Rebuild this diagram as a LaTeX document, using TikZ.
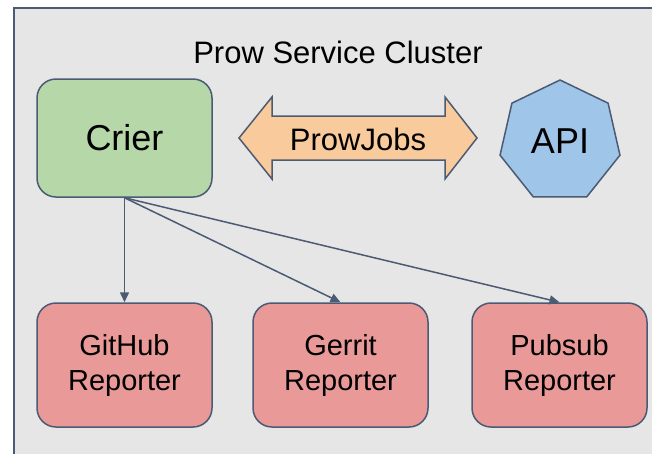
\documentclass[tikz,border=0pt]{standalone}
\usepackage{fontspec}
\setmainfont{Liberation Sans}
\usetikzlibrary{shapes.geometric,arrows.meta}
\definecolor{edgec}{HTML}{4B5B73}
\definecolor{framefill}{HTML}{E6E6E6}
\definecolor{crierfill}{HTML}{B6D7A8}
\definecolor{arrowfill}{HTML}{F9CB9C}
\definecolor{apifill}{HTML}{9FC5E8}
\definecolor{repfill}{HTML}{EA9999}
\tikzset{
  boxbase/.style={draw=edgec, line width=1.5pt, rounded corners=19pt, minimum width=175pt, inner sep=0pt, align=center, text=black},
  crierbox/.style={boxbase, fill=crierfill, minimum height=118pt, font=\fontsize{36}{40}\selectfont},
  repbox/.style={boxbase, fill=repfill, minimum height=124pt, font=\fontsize{29}{35}\selectfont},
  apibox/.style={draw=edgec, line width=1.5pt, fill=apifill, regular polygon, regular polygon sides=7, minimum size=123pt, inner sep=0pt, font=\fontsize{36}{40}\selectfont},
  conn/.style={draw=edgec, line width=1.5pt, -{Triangle[length=10pt,width=9pt]}},
  bigarrow/.style={draw=edgec, line width=1.5pt, fill=arrowfill, line join=miter},
  labeltext/.style={inner sep=0pt, font=\fontsize{31}{37}\selectfont}
}
\begin{document}
\begin{tikzpicture}[x=1pt,y=-1pt]
\useasboundingbox (0,0) rectangle (652,453);
\fill[white] (0,0) rectangle (652,453);
\clip (0,0) rectangle (652,453);
\draw[edgec, line width=1.2pt, fill=framefill] (14,8) rectangle (720,520);
\node[labeltext] (title) at (338,52) {Prow Service Cluster};
\node[crierbox] (crier) at (124.5,138) {Crier};
\path[bigarrow] (239,138) -- (272,97) -- (272,116) -- (445,116) -- (445,97) -- (477,138) -- (445,179) -- (445,160) -- (272,160) -- (272,179) -- cycle;
\node[labeltext] (pj) at (358,139) {ProwJobs};
\node[apibox] (api) at (560,141.5) {API};
\node[repbox] (gh) at (124.5,365) {GitHub\\Reporter};
\node[repbox] (ge) at (340.5,365) {Gerrit\\Reporter};
\node[repbox] (pu) at (559.5,365) {Pubsub\\Reporter};
\draw[conn] (crier.south) -- (gh.north);
\draw[conn] (crier.south) -- (ge.north);
\draw[conn] (crier.south) -- (pu.north);
\end{tikzpicture}
\end{document}
